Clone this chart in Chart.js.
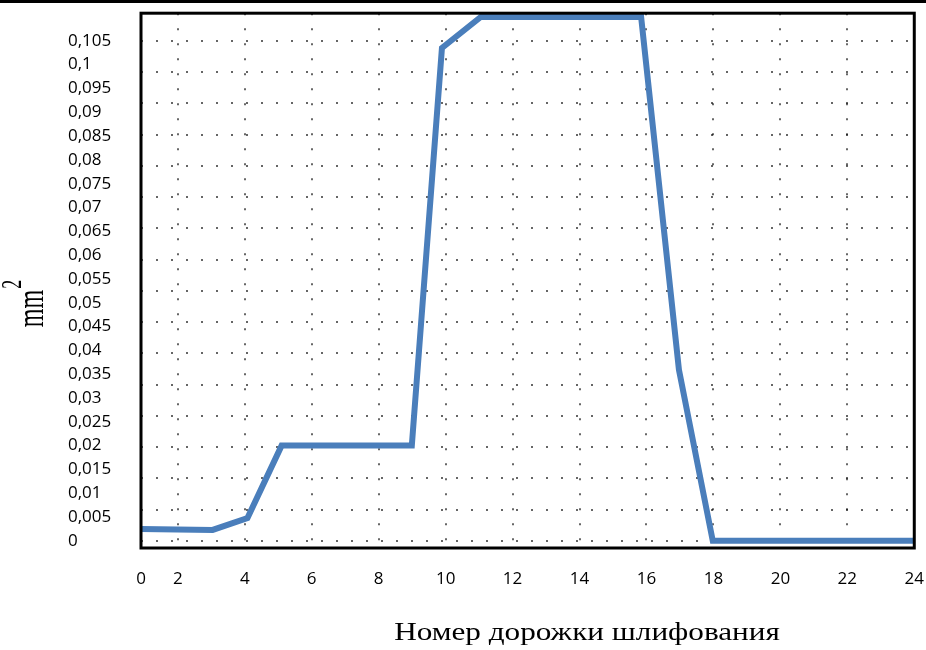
<!DOCTYPE html>
<html>
<head>
<meta charset="utf-8">
<script src="https://cdn.jsdelivr.net/npm/chart.js@4"></script>
<style>
  html, body { margin: 0; padding: 0; background: #fff; }
  #wrap { width: 926px; height: 650px; position: relative; }
</style>
</head>
<body>
<div id="wrap"><canvas id="chart"></canvas></div>
<script>
// track positions (x) and area values (y)
const trackX = [0.90, 3.04, 4.08, 5.10, 8.99, 9.89, 11.05, 15.84, 16.97, 17.98, 24];
const areaY = [0.0025, 0.0023, 0.0048, 0.02, 0.02, 0.1035, 0.11, 0.11, 0.0359, 0, 0];

// x axis ticks: first label "0" sits at the left edge of the plot
const xTickValues = [0.90, 2, 4, 6, 8, 10, 12, 14, 16, 18, 20, 22, 24];
const xTickLabels = ["0", "2", "4", "6", "8", "10", "12", "14", "16", "18", "20", "22", "24"];

// y axis labels
const yTickValues = [0, 0.005, 0.01, 0.015, 0.02, 0.025, 0.03, 0.035, 0.04, 0.045, 0.05,
  0.055, 0.06, 0.065, 0.07, 0.075, 0.08, 0.085, 0.09, 0.095, 0.1, 0.105];
const yTickLabels = ["0", "0,005", "0,01", "0,015", "0,02", "0,025", "0,03", "0,035", "0,04", "0,045", "0,05",
  "0,055", "0,06", "0,065", "0,07", "0,075", "0,08", "0,085", "0,09", "0,095", "0,1", "0,105"];

// the dotted horizontal grid does not follow the labels: 16 equal bands from 0 to 0,105
const yGridCount = 16;
const yGridTop = 0.105;

const xTitle = "Номер дорожки шлифования";
const yTitle = "mm";
const yTitleSup = "2";

const points = trackX.map((x, i) => ({ x: x, y: areaY[i] }));

const gridColor = "rgba(0,0,0,0.6)";
const dots = [2, 13];
const serif = "'Liberation Serif', 'Times New Roman', serif";

// frame, top rule and axis titles
const framePlugin = {
  id: "frame",
  beforeDraw(chart) {
    const ctx = chart.ctx;
    ctx.save();
    ctx.fillStyle = "#000";
    ctx.fillRect(0, 0, chart.width, 3);
    ctx.restore();
  },
  afterDraw(chart) {
    const { ctx, chartArea: a } = chart;
    ctx.save();
    ctx.strokeStyle = "#000";
    ctx.lineWidth = 3;
    ctx.strokeRect(a.left, a.top, a.right - a.left, a.bottom - a.top);
    ctx.restore();

    // x title (the picture is stretched sideways)
    ctx.save();
    ctx.fillStyle = "#000";
    ctx.font = "26px " + serif;
    ctx.textAlign = "center";
    ctx.textBaseline = "alphabetic";
    ctx.translate(587, 640);
    ctx.scale(1.2, 1);
    ctx.fillText(xTitle, 0, 0);
    ctx.restore();

    // y title, rotated
    ctx.save();
    ctx.fillStyle = "#000";
    ctx.translate(43, 304);
    ctx.rotate(-Math.PI / 2);
    ctx.scale(1, 1.6);
    ctx.font = "24px " + serif;
    const w = ctx.measureText(yTitle).width;
    ctx.font = "18px " + serif;
    const ws = ctx.measureText(yTitleSup).width;
    const start = -(w + ws) / 2;
    ctx.textAlign = "left";
    ctx.font = "24px " + serif;
    ctx.fillText(yTitle, start, 0);
    ctx.font = "18px " + serif;
    ctx.fillText(yTitleSup, start + w + 1, -14);
    ctx.restore();
  }
};

new Chart(document.getElementById("chart"), {
  type: "line",
  data: {
    datasets: [{
      data: points,
      borderColor: "#4a7ebb",
      borderWidth: 6,
      pointRadius: 0,
      tension: 0,
      clip: false
    }]
  },
  options: {
    responsive: true,
    maintainAspectRatio: false,
    animation: false,
    layout: { padding: { left: 68, top: 13, right: 9, bottom: 0 } },
    plugins: {
      legend: { display: false },
      tooltip: { enabled: false }
    },
    scales: {
      x: {
        type: "linear",
        min: 0.90,
        max: 24,
        afterBuildTicks: (scale) => { scale.ticks = xTickValues.map(v => ({ value: v })); },
        afterFit: (scale) => { scale.height = 102; },
        grid: {
          color: gridColor, lineWidth: 2,
          drawTicks: true, tickLength: 19, tickColor: "rgba(0,0,0,0)"
        },
        border: { display: false, dash: dots },
        ticks: {
          autoSkip: false,
          maxRotation: 0,
          padding: 2,
          color: "#000",
          font: { family: "'Open Sans'", size: 17 },
          callback: (v, i) => xTickLabels[i]
        }
      },
      y: {
        type: "linear",
        position: "left",
        min: -0.0015,
        max: 0.1108,
        afterBuildTicks: (scale) => { scale.ticks = yTickValues.map(v => ({ value: v })); },
        afterFit: (scale) => { scale.width = 73; },
        grid: { display: false },
        border: { display: false },
        ticks: {
          crossAlign: "far",
          color: "#000",
          font: { family: "'Open Sans'", size: 17 },
          callback: (v, i) => yTickLabels[i]
        }
      },
      y2: {
        type: "linear",
        position: "left",
        min: -0.0015,
        max: 0.1108,
        afterBuildTicks: (scale) => {
          const t = [];
          for (let k = 0; k <= yGridCount; k++) t.push({ value: yGridTop * k / yGridCount });
          scale.ticks = t;
        },
        afterFit: (scale) => { scale.width = 0; },
        grid: { color: gridColor, lineWidth: 2, drawTicks: false },
        border: { display: false, dash: dots },
        ticks: { display: false }
      }
    }
  },
  plugins: [framePlugin]
});
</script>
</body>
</html>
